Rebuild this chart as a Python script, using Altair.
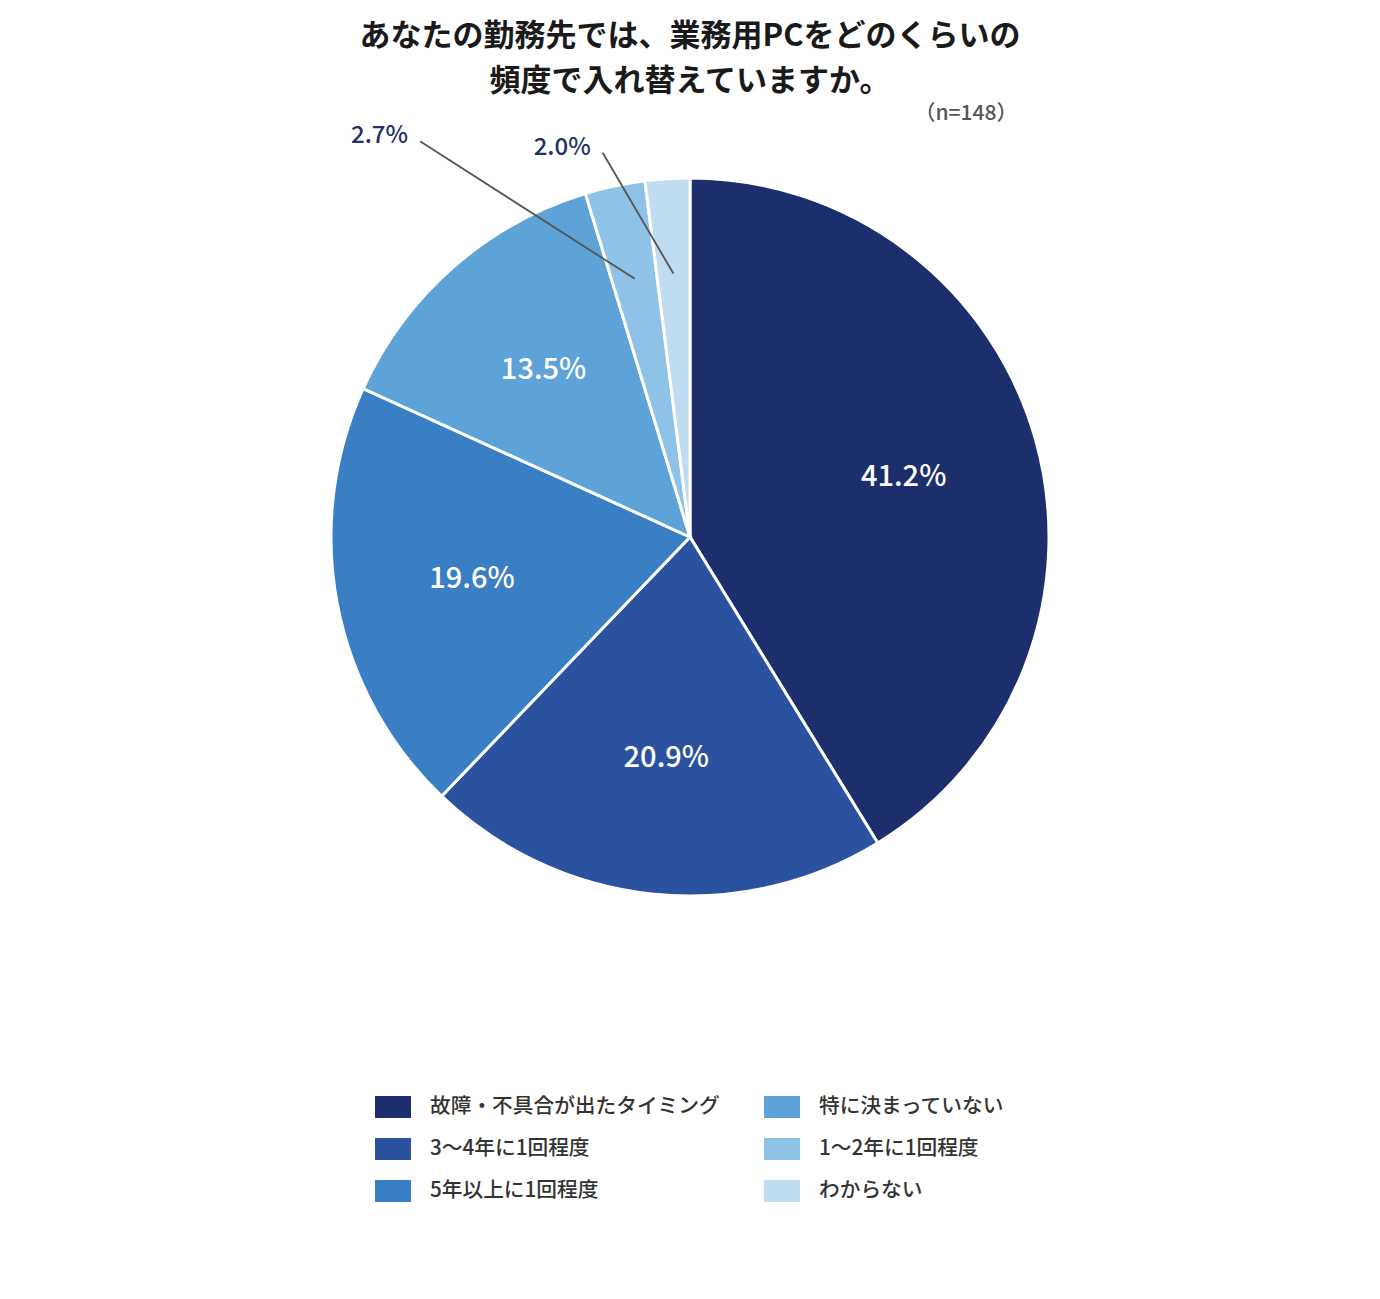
import pandas as pd
import altair as alt

# survey answers (n=148), clockwise from 12 o'clock
categories = [
    "故障・不具合が出たタイミング",
    "3〜4年に1回程度",
    "5年以上に1回程度",
    "特に決まっていない",
    "1〜2年に1回程度",
    "わからない",
]
shares = [41.2, 20.9, 19.6, 13.5, 2.7, 2.0]
colors = ["#1c2e6c", "#2b529f", "#3a7ec4", "#5da3d7", "#8ec2e7", "#c0dcf0"]

# where the leader lines of the small slices end (angle from 12 o'clock, radius)
callouts = {"1〜2年に1回程度": (-34.3, 479), "わからない": (-12.8, 394)}

FONT = "Noto Sans CJK JP"
CX, CY, R = 682, 429, 359

df = pd.DataFrame({"cat": categories, "share": shares, "order": range(len(categories))})
df["label"] = df["share"].map(lambda v: f"{v:.1f}%")
df["ca"] = df["cat"].map(lambda c: callouts.get(c, (0, 0))[0])
df["cr"] = df["cat"].map(lambda c: callouts.get(c, (0, 0))[1])

base = alt.Chart(df)

pie = base.mark_arc(outerRadius=R, stroke="white", strokeWidth=3).encode(
    theta=alt.Theta("share:Q", stack=True),
    order=alt.Order("order:Q"),
    color=alt.Color(
        "cat:N",
        scale=alt.Scale(domain=categories, range=colors),
        legend=alt.Legend(
            title=None,
            orient="none",
            legendX=367,
            legendY=981,
            columns=2,
            columnPadding=44,
            rowPadding=13,
            symbolType="M-1,-0.61H1V0.61H-1Z",
            symbolSize=1296,
            symbolStrokeWidth=0,
            symbolOpacity=1,
            labelFont=FONT,
            labelFontSize=20.7,
            labelFontWeight=500,
            labelColor="#333333",
            labelOffset=19,
            labelLimit=500,
            padding=0,
        ),
    ),
    x=alt.value(CX),
    y=alt.value(CY),
)

inner = base.mark_text(radius=222, font=FONT, fontSize=29, fontWeight=500, color="white").encode(
    theta=alt.Theta("share:Q", stack=True),
    order=alt.Order("order:Q"),
    text=alt.condition(alt.datum.share > 5, "label:N", alt.value("")),
    x=alt.value(CX),
    y=alt.value(CY),
)

leader = base.transform_joinaggregate(total="sum(share)").transform_window(
    cum="sum(share)", sort=[alt.SortField("order")], frame=[None, 0]
).transform_calculate(
    mid="(datum.cum - datum.share / 2) / datum.total * 2 * PI",
    x1=f"{CX} + 264 * sin(datum.mid)",
    y1=f"{CY} - 264 * cos(datum.mid)",
    x2=f"{CX} + datum.cr * sin(datum.ca * PI / 180)",
    y2=f"{CY} - datum.cr * cos(datum.ca * PI / 180)",
).transform_filter(alt.datum.share < 5)

rules = leader.mark_rule(color="#555555", strokeWidth=1.8).encode(
    x=alt.X("x1:Q", scale=None, axis=None),
    y=alt.Y("y1:Q", scale=None, axis=None),
    x2="x2:Q",
    y2="y2:Q",
)

outer = leader.mark_text(
    font=FONT, fontSize=24, fontWeight=500, color="#22306a",
    align="right", baseline="middle", dx=-12, dy=-5,
).encode(
    x=alt.X("x2:Q", scale=None, axis=None),
    y=alt.Y("y2:Q", scale=None, axis=None),
    text="label:N",
)

n_note = base.mark_text(
    font=FONT, fontSize=21, fontWeight=500, color="#555555", baseline="middle"
).encode(
    x=alt.value(958), y=alt.value(6), text=alt.value("（n=148）")
).transform_filter(alt.datum.order == 0)

chart = alt.layer(pie, inner, rules, outer, n_note).properties(
    width=1364,
    height=1183,
    padding={"top": 100, "left": 0, "right": 0, "bottom": 0},
    autosize=alt.AutoSizeParams(type="none"),
    title=alt.TitleParams(
        text=["あなたの勤務先では、業務用PCをどのくらいの", "頻度で入れ替えていますか。"],
        font=FONT,
        fontSize=31,
        fontWeight="bold",
        color="#1a1a1a",
        lineHeight=45,
        anchor="middle",
        offset=5,
    ),
).configure_view(stroke=None)

chart.save("out.html", embed_options={"renderer": "svg", "actions": False})
